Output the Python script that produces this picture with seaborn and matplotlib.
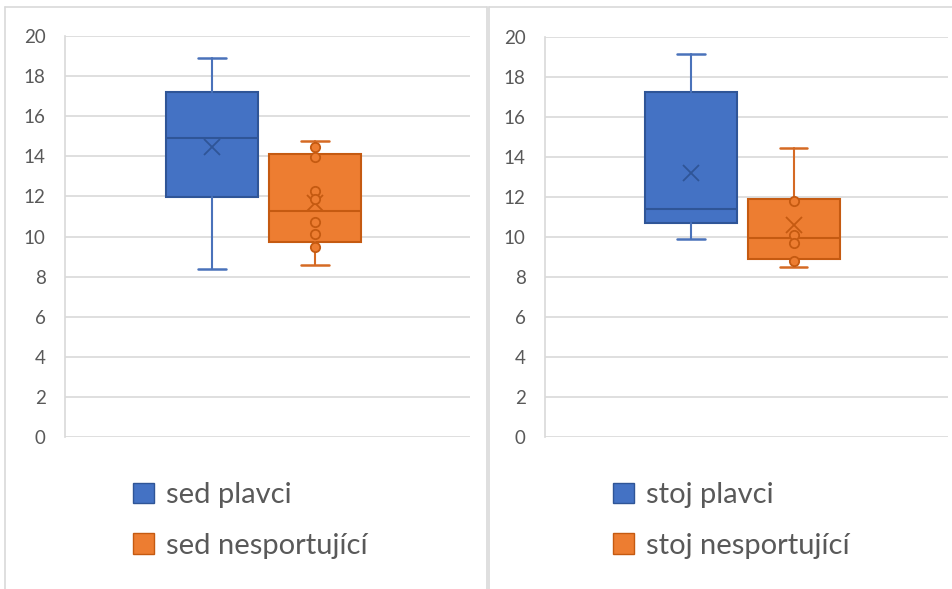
import numpy as np
import matplotlib.pyplot as plt
import seaborn as sns
from matplotlib.patches import Patch
from matplotlib.lines import Line2D

# box & whisker stats (whislo, q1, median, q3, whishi, mean)
sed_labels = ['sed plavci', 'sed nesportující']
sed_whislo = [8.36, 8.58]
sed_q1 = [11.95, 9.74]
sed_med = [14.93, 11.29]
sed_q3 = [17.22, 14.11]
sed_whishi = [18.89, 14.76]
sed_mean = [14.45, 11.65]
sed_points_nesport = [14.48, 13.98, 12.28, 11.86, 10.71, 10.12, 9.46]

stoj_labels = ['stoj plavci', 'stoj nesportující']
stoj_whislo = [9.88, 8.48]
stoj_q1 = [10.68, 8.88]
stoj_med = [11.42, 9.97]
stoj_q3 = [17.25, 11.88]
stoj_whishi = [19.15, 14.43]
stoj_mean = [13.18, 10.6]
stoj_points_nesport = [11.82, 10.1, 9.68, 8.8]

fills = ['#4472C4', '#ED7D31']
edges = ['#2F5597', '#C55A11']
whisk = ['#4A72BA', '#D56A24']

sns.set_theme(style='white')
plt.rcParams['font.family'] = ['Lato', 'DejaVu Sans']

fig = plt.figure(figsize=(9.53, 5.89), dpi=100)
W, H = 953, 589


def panel(rect, labels, lo, q1, med, q3, hi, mean, pts, leg_x):
    ax = fig.add_axes(rect)
    stats = []
    for i in range(2):
        stats.append({'whislo': lo[i], 'q1': q1[i], 'med': med[i], 'q3': q3[i],
                      'whishi': hi[i], 'mean': mean[i], 'label': labels[i]})
    for i in range(2):
        ax.bxp([stats[i]], positions=[i], widths=0.9, patch_artist=True,
               showmeans=True, showfliers=False, capwidths=0.27,
               boxprops=dict(facecolor=fills[i], edgecolor=edges[i], linewidth=1.5),
               medianprops=dict(color=edges[i], linewidth=1.5),
               whiskerprops=dict(color=whisk[i], linewidth=1.5),
               capprops=dict(color=whisk[i], linewidth=1.8),
               meanprops=dict(marker='x', markeredgecolor=edges[i], markersize=11,
                              markeredgewidth=1.3),
               zorder=3)
    sns.scatterplot(x=[1] * len(pts), y=pts, ax=ax, s=45, color=fills[1],
                    edgecolor=edges[1], linewidth=1.3, zorder=4)
    ax.set_xlim(-1.43, 2.51)
    ax.set_ylim(0, 20)
    ax.set_yticks(np.arange(0, 21, 2))
    ax.set_xticks([])
    ax.yaxis.grid(True, color='#d9d9d9', linewidth=1.2)
    ax.set_axisbelow(True)
    for s in ['top', 'right', 'bottom']:
        ax.spines[s].set_visible(False)
    ax.spines['left'].set_color('#d9d9d9')
    ax.spines['left'].set_linewidth(1.2)
    ax.tick_params(axis='y', length=0, pad=14, labelsize=13.5, labelcolor='#595959')
    handles = [Patch(facecolor=fills[i], edgecolor=edges[i], label=labels[i]) for i in range(2)]
    ax.legend(handles=handles, loc='upper left', bbox_to_anchor=(leg_x / W, 1 - 482 / H),
              bbox_transform=fig.transFigure, frameon=False, fontsize=21,
              handlelength=0.72, handleheight=0.7, handletextpad=0.4,
              labelspacing=0.85, borderpad=0, borderaxespad=0, labelcolor='#595959')
    return ax


panel([65 / W, 1 - 437 / H, 405 / W, 401 / H], sed_labels, sed_whislo, sed_q1, sed_med,
      sed_q3, sed_whishi, sed_mean, sed_points_nesport, 133)
panel([545 / W, 1 - 437 / H, 403 / W, 400 / H], stoj_labels, stoj_whislo, stoj_q1, stoj_med,
      stoj_q3, stoj_whishi, stoj_mean, stoj_points_nesport, 613)

# chart-area borders
bc = '#d9d9d9'
for x0, x1 in [(5, 487), (489, 960)]:
    fig.add_artist(Line2D([x0 / W, x1 / W], [1 - 7 / H, 1 - 7 / H], color=bc, lw=1.2))
for x in [5, 487, 489]:
    fig.add_artist(Line2D([x / W, x / W], [0, 1 - 7 / H], color=bc, lw=1.2))

fig.savefig('out.png', dpi=100)
